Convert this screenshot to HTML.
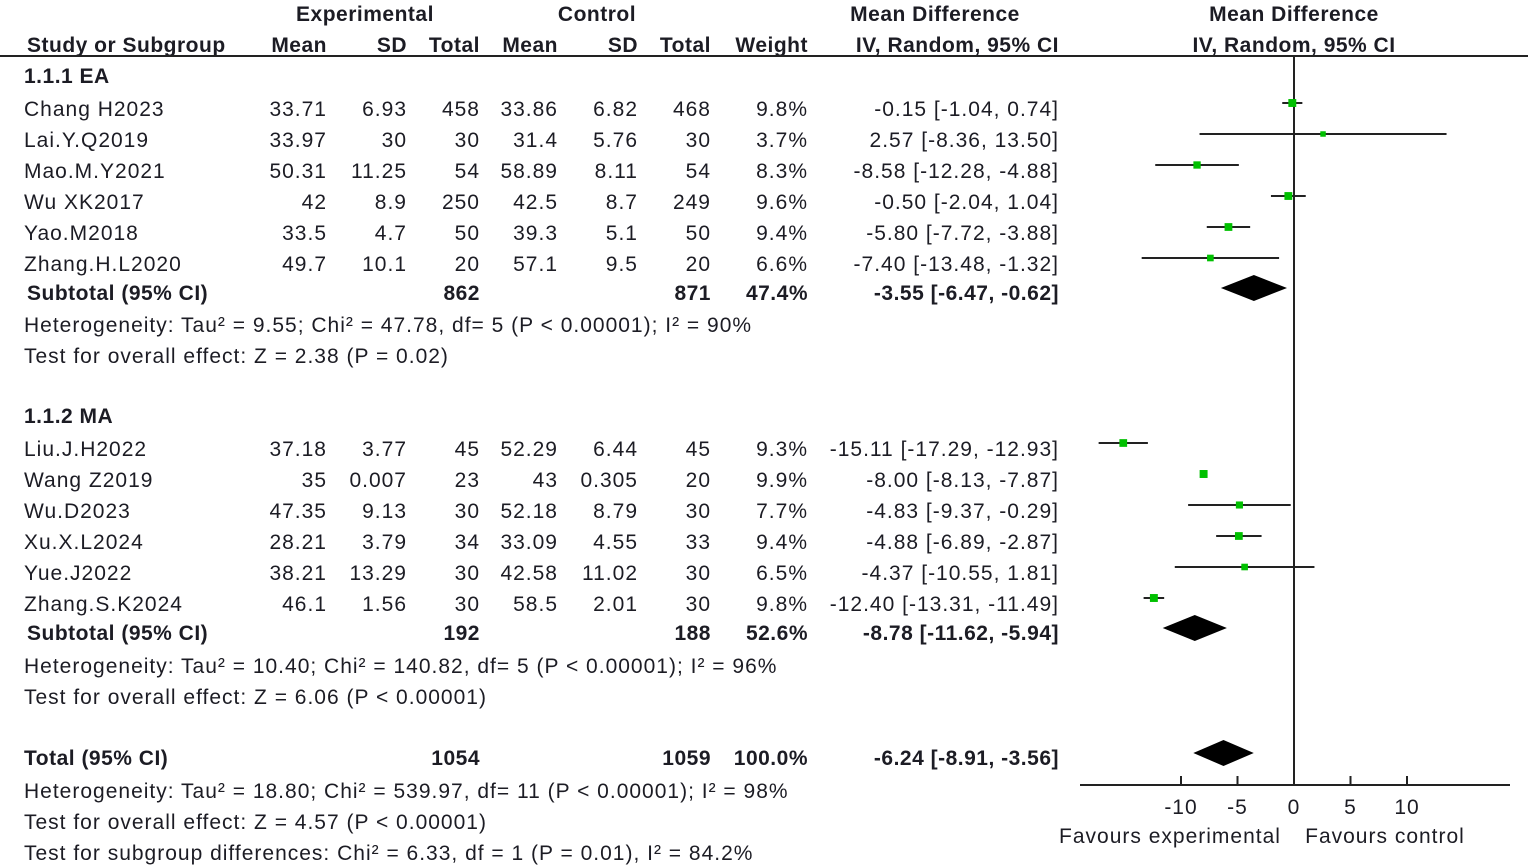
<!DOCTYPE html>
<html><head><meta charset="utf-8"><style>
html,body{margin:0;padding:0;background:#fff;width:1535px;height:867px;overflow:hidden}
svg text{font-family:"Liberation Sans",Arial,sans-serif;font-size:21px;fill:#1c1c24;letter-spacing:1px}
.b{font-weight:bold;letter-spacing:0.5px}
</style></head><body>
<svg id="fp" width="1535" height="867" viewBox="0 0 1535 867" xmlns="http://www.w3.org/2000/svg"></svg>
<script>
const studies = ["Chang H2023","Lai.Y.Q2019","Mao.M.Y2021","Wu XK2017","Yao.M2018","Zhang.H.L2020","Liu.J.H2022","Wang  Z2019","Wu.D2023","Xu.X.L2024","Yue.J2022","Zhang.S.K2024"];
const expMean = ["33.71","33.97","50.31","42","33.5","49.7","37.18","35","47.35","28.21","38.21","46.1"];
const expSD = ["6.93","30","11.25","8.9","4.7","10.1","3.77","0.007","9.13","3.79","13.29","1.56"];
const expN = ["458","30","54","250","50","20","45","23","30","34","30","30"];
const ctlMean = ["33.86","31.4","58.89","42.5","39.3","57.1","52.29","43","52.18","33.09","42.58","58.5"];
const ctlSD = ["6.82","5.76","8.11","8.7","5.1","9.5","6.44","0.305","8.79","4.55","11.02","2.01"];
const ctlN = ["468","30","54","249","50","20","45","20","30","33","30","30"];
const weights = [9.8,3.7,8.3,9.6,9.4,6.6,9.3,9.9,7.7,9.4,6.5,9.8];
const md = [-0.15,2.57,-8.58,-0.50,-5.80,-7.40,-15.11,-8.00,-4.83,-4.88,-4.37,-12.40];
const lo = [-1.04,-8.36,-12.28,-2.04,-7.72,-13.48,-17.29,-8.13,-9.37,-6.89,-10.55,-13.31];
const hi = [0.74,13.50,-4.88,1.04,-3.88,-1.32,-12.93,-7.87,-0.29,-2.87,1.81,-11.49];
const ciText = ["-0.15 [-1.04, 0.74]","2.57 [-8.36, 13.50]","-8.58 [-12.28, -4.88]","-0.50 [-2.04, 1.04]","-5.80 [-7.72, -3.88]","-7.40 [-13.48, -1.32]","-15.11 [-17.29, -12.93]","-8.00 [-8.13, -7.87]","-4.83 [-9.37, -0.29]","-4.88 [-6.89, -2.87]","-4.37 [-10.55, 1.81]","-12.40 [-13.31, -11.49]"];
const rowY = [109,140,171,202,233,264,449,480,511,542,573,604];
const pooledLabel = ["Subtotal (95% CI)","Subtotal (95% CI)","Total (95% CI)"];
const pooledExpN = ["862","192","1054"];
const pooledCtlN = ["871","188","1059"];
const pooledW = ["47.4%","52.6%","100.0%"];
const pooledMd = [-3.55,-8.78,-6.24];
const pooledLo = [-6.47,-11.62,-8.91];
const pooledHi = [-0.62,-5.94,-3.56];
const pooledText = ["-3.55 [-6.47, -0.62]","-8.78 [-11.62, -5.94]","-6.24 [-8.91, -3.56]"];
const pooledY = [293,633,758];
const ticks = [-10,-5,0,5,10];

const NS="http://www.w3.org/2000/svg", svg=document.getElementById('fp');
const X0=1294, PX=11.3;
function xs(v){return X0+v*PX;}
function el(t,a,p){const e=document.createElementNS(NS,t);for(const k in a)e.setAttribute(k,a[k]);(p||svg).appendChild(e);return e;}
function txt(s,x,y,anchor,bold){const e=el('text',{x:x,y:y+7,'text-anchor':anchor||'start'});if(bold)e.setAttribute('class','b');e.textContent=s;return e;}

let h;
h=txt("Experimental",365,14,'middle',1);
h=txt("Control",597,14,'middle',1);
h=txt("Mean Difference",935,14,'middle',1);
h=txt("Mean Difference",1294,14,'middle',1);
const hd=[["Study or Subgroup",27,'start'],["Mean",327,'end'],["SD",407,'end'],["Total",480,'end'],["Mean",558,'end'],["SD",638,'end'],["Total",711,'end'],["Weight",808,'end'],["IV, Random, 95% CI",1059,'end'],["IV, Random, 95% CI",1294,'middle']];
hd.forEach(d=>{const e=txt(d[0],d[1],45,d[2],1);});
el('line',{x1:0,y1:56,x2:1528,y2:56,stroke:'#222','stroke-width':2});

[["1.1.1 EA",24,76],["1.1.2 MA",24,416]].forEach(g=>{const e=txt(g[0],g[1],g[2],'start',1);});
const notes=[["Heterogeneity: Tau² = 9.55; Chi² = 47.78, df= 5 (P < 0.00001); I² = 90%",325],["Test for overall effect: Z = 2.38 (P = 0.02)",356],["Heterogeneity: Tau² = 10.40; Chi² = 140.82, df= 5 (P < 0.00001); I² = 96%",666],["Test for overall effect: Z = 6.06 (P < 0.00001)",697],["Heterogeneity: Tau² = 18.80; Chi² = 539.97, df= 11 (P < 0.00001); I² = 98%",791],["Test for overall effect: Z = 4.57 (P < 0.00001)",822],["Test for subgroup differences: Chi² = 6.33, df = 1 (P = 0.01), I² = 84.2%",853]];
notes.forEach(n=>{const e=txt(n[0],24,n[1]);});

el('line',{x1:X0,y1:56,x2:X0,y2:785,stroke:'#222','stroke-width':2});
el('line',{x1:1080,y1:785,x2:1510,y2:785,stroke:'#222','stroke-width':2});
ticks.forEach(t=>{el('line',{x1:xs(t),y1:776,x2:xs(t),y2:785,stroke:'#222','stroke-width':2});const e=txt(String(t),xs(t),807,'middle');});
h=txt("Favours experimental",1170,836,'middle');
h=txt("Favours control",1385,836,'middle');

studies.forEach((s,i)=>{
  const y=rowY[i];
  const g=el('g',{});
  
  
  const cells=[[s,24,'start'],[expMean[i],327,'end'],[expSD[i],407,'end'],[expN[i],480,'end'],[ctlMean[i],558,'end'],[ctlSD[i],638,'end'],[ctlN[i],711,'end'],[weights[i].toFixed(1)+'%',808,'end'],[ciText[i],1059,'end']];
  cells.forEach(c=>{const e=txt(c[0],c[1],y,c[2]);g.appendChild(e);});
  const ly=y-6;
  const ci=el('line',{x1:xs(lo[i]),y1:ly,x2:xs(hi[i]),y2:ly,stroke:'#222','stroke-width':2});
  
  
  const sz=4+weights[i]*0.4;
  const b=el('rect',{x:xs(md[i])-sz/2,y:ly-sz/2,width:sz,height:sz,fill:'#00c000'});
  
  
});

pooledY.forEach((y,i)=>{
  const g=el('g',{});
  
  
  [[pooledLabel[i],i<2?27:24,'start'],[pooledExpN[i],480,'end'],[pooledCtlN[i],711,'end'],[pooledW[i],808,'end'],[pooledText[i],1059,'end']].forEach(c=>{g.appendChild(txt(c[0],c[1],y,c[2],1));});
  const cy=y-5, hh=13;
  const d=el('polygon',{points:`${xs(pooledLo[i])},${cy} ${xs(pooledMd[i])},${cy-hh} ${xs(pooledHi[i])},${cy} ${xs(pooledMd[i])},${cy+hh}`,fill:'#000'});
  
  
});
</script>
</body></html>
